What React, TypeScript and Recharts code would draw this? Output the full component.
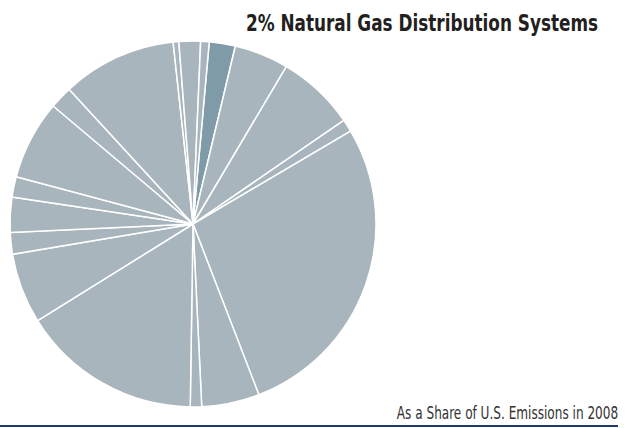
import { PieChart, Pie, Cell } from 'recharts';

// share of U.S. emissions by source, in percent, clockwise from the highlighted slice
const sources = [
  'Natural Gas Distribution Systems',
  'S2', 'S3', 'S4', 'S5', 'S6', 'S7', 'S8', 'S9',
  'S10', 'S11', 'S12', 'S13', 'S14', 'S15', 'S16', 'S17', 'S18',
];
const shares = [
  2.3, 4.8, 6.9, 1.1, 27.6, 5.1, 1.0, 15.9, 6.2,
  1.9, 3.1, 1.8, 7.0, 2.0, 10.1, 0.5, 1.9, 0.75,
];
const highlighted = 'Natural Gas Distribution Systems';

const title = '2% Natural Gas Distribution Systems';
const subtitle = 'As a Share of U.S. Emissions in 2008';

const data = sources.map((name, i) => ({ name, value: shares[i] }));

const font = "'Liberation Sans Narrow', 'DejaVu Sans Condensed', 'Roboto', sans-serif";

export default function App() {
  return (
    <div style={{ position: 'absolute', left: 0, top: 0, width: 634, height: 428, background: '#fff' }}>
      <PieChart width={634} height={428} margin={{ top: 0, right: 0, bottom: 0, left: 0 }}>
        <Pie
          data={data}
          dataKey="value"
          nameKey="name"
          cx={193}
          cy={224}
          outerRadius={183}
          startAngle={84.9}
          endAngle={-275.1}
          stroke="#ffffff"
          strokeWidth={1.5}
          isAnimationActive={false}
        >
          {data.map((d) => (
            <Cell key={d.name} fill={d.name === highlighted ? '#7f9ba8' : '#a8b5bd'} />
          ))}
        </Pie>
      </PieChart>
      <div
        style={{
          position: 'absolute',
          right: 36,
          top: 10,
          fontFamily: font,
          fontWeight: 700,
          fontSize: 23,
          color: '#231f20',
          whiteSpace: 'nowrap',
          transform: 'scaleX(0.815)',
          transformOrigin: 'right',
        }}
      >
        {title}
      </div>
      <div
        style={{
          position: 'absolute',
          right: 16,
          top: 403,
          fontFamily: font,
          fontSize: 17,
          color: '#333',
          whiteSpace: 'nowrap',
          transform: 'scaleX(0.79)',
          transformOrigin: 'right',
        }}
      >
        {subtitle}
      </div>
      <div
        style={{
          position: 'absolute',
          left: 0,
          top: 425,
          width: 618,
          height: 2,
          background: '#1f3a68',
        }}
      />
    </div>
  );
}
